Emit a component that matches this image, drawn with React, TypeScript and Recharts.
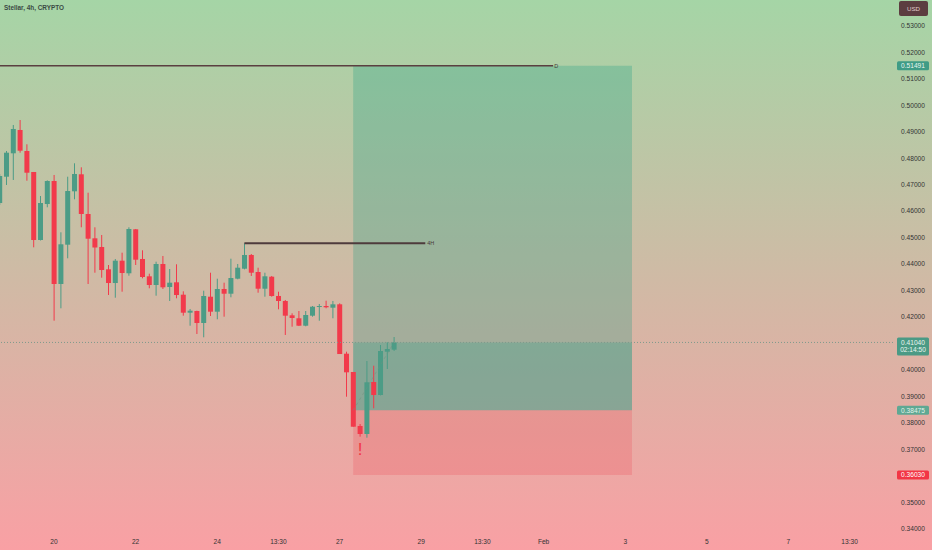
import {
  ComposedChart,
  Bar,
  XAxis,
  YAxis,
  ReferenceArea,
  ReferenceLine,
  ReferenceDot,
} from "recharts";

// 4h candles, Jan 18 16:00 -> Jan 28 08:00
const opens = [
  0.46305, 0.47298, 0.48182, 0.49062, 0.48269, 0.47476, 0.44908, 0.46267, 0.47136, 0.43247,
  0.44731, 0.46747, 0.47389, 0.4589, 0.44972, 0.44644, 0.43802, 0.43284, 0.44127, 0.43651,
  0.45312, 0.44191, 0.43537, 0.43209, 0.44002, 0.43133, 0.43311, 0.42843, 0.42163, 0.42227,
  0.41774, 0.42767, 0.42201, 0.43058, 0.4288, 0.43447, 0.43824, 0.44342, 0.437, 0.43069,
  0.43522, 0.42794, 0.42605, 0.42065, 0.41952, 0.41672, 0.4205, 0.42378, 0.42416, 0.42352,
  0.4248, 0.40615, 0.39924, 0.37885, 0.37583, 0.39546, 0.39055, 0.4069, 0.40766,
];
const highs = [
  0.474, 0.48269, 0.49251, 0.49439, 0.48522, 0.47476, 0.4657, 0.4716, 0.47363, 0.45199,
  0.47298, 0.47804, 0.47653, 0.46694, 0.45388, 0.45097, 0.43964, 0.44191, 0.44429, 0.45388,
  0.45324, 0.44519, 0.43636, 0.44089, 0.44304, 0.43813, 0.43991, 0.42971, 0.42303, 0.42239,
  0.42994, 0.43673, 0.43447, 0.43296, 0.44202, 0.44002, 0.44784, 0.44379, 0.43862, 0.43673,
  0.43549, 0.42956, 0.42643, 0.4214, 0.42227, 0.42227, 0.42416, 0.42492, 0.42616, 0.42605,
  0.42518, 0.4069, 0.39924, 0.3796, 0.40339, 0.40162, 0.40943, 0.41045, 0.41245,
];
const lows = [
  0.4623, 0.46985, 0.47174, 0.48205, 0.47147, 0.44632, 0.4489, 0.46143, 0.41861, 0.42329,
  0.44217, 0.46445, 0.45388, 0.43247, 0.43673, 0.43485, 0.42831, 0.42729, 0.42956, 0.4356,
  0.43964, 0.43462, 0.43084, 0.42805, 0.43058, 0.42605, 0.42707, 0.4205, 0.41672, 0.41359,
  0.41234, 0.42038, 0.41914, 0.42012, 0.42745, 0.43424, 0.438, 0.43549, 0.42918, 0.42767,
  0.42767, 0.42291, 0.41321, 0.41634, 0.4166, 0.41649, 0.42012, 0.41861, 0.42329, 0.41952,
  0.40603, 0.38991, 0.37858, 0.37481, 0.37443, 0.38553, 0.3904, 0.40037, 0.40717,
];
const closes = [
  0.47325, 0.48205, 0.491, 0.4828, 0.47449, 0.44908, 0.46305, 0.47136, 0.43247, 0.44746,
  0.46758, 0.474, 0.4589, 0.44957, 0.44625, 0.43775, 0.43284, 0.44127, 0.43662, 0.45324,
  0.44164, 0.43511, 0.43209, 0.44002, 0.43122, 0.43296, 0.42831, 0.42163, 0.42239, 0.41774,
  0.42794, 0.42201, 0.43058, 0.4288, 0.43473, 0.43862, 0.44342, 0.43673, 0.43069, 0.43537,
  0.42794, 0.42605, 0.4205, 0.41963, 0.41672, 0.42076, 0.4239, 0.42416, 0.42367, 0.4248,
  0.40603, 0.39912, 0.37858, 0.37583, 0.39535, 0.39055, 0.40717, 0.40792, 0.4104,
];

const timeTicks = [8, 20, 32, 41, 50, 62, 71, 80, 92, 104, 116, 125];
const timeLabels = ["20", "22", "24", "13:30", "27", "29", "13:30", "Feb", "3", "5", "7", "13:30"];
const priceTicks = [
  0.34, 0.35, 0.37, 0.38, 0.39, 0.4, 0.42, 0.43, 0.44, 0.45, 0.46, 0.47, 0.48, 0.49, 0.5, 0.51,
  0.52, 0.53,
];

// drawings
const dailyLevel = 0.51491;
const dailyEnd = 81.4;
const h4Level = 0.44784;
const h4Start = 36;
const h4End = 62.6;
const entryPrice = 0.38475;
const targetPrice = 0.51491;
const stopPrice = 0.3603;
const positionStart = 52;
const positionEnd = 93;
const lastPrice = 0.4104;
const countdown = "02:14:50";
const alertBar = 53;
const alertPrice = 0.3703;

const W = 932;
const H = 550;
const X_DOMAIN = [0.0588, 131.38];
const Y_DOMAIN = [0.33769, 0.539705];
const GREEN = "#4c9c86";
const RED = "#f23a4b";
const FONT = "'Liberation Sans', Arial, sans-serif";

const candles = opens.map((o, i) => ({
  i,
  open: o,
  high: highs[i],
  low: lows[i],
  close: closes[i],
  range: [lows[i], highs[i]],
}));

function Candle(props: any) {
  const { x, y, width, height, payload } = props;
  if (x == null || !payload) return null;
  const top = Math.min(y, y + height);
  const h = Math.abs(height);
  const span = payload.high - payload.low;
  const k = span > 0 ? h / span : 0;
  const yo = top + (payload.high - payload.open) * k;
  const yc = top + (payload.high - payload.close) * k;
  const color = payload.close >= payload.open ? GREEN : RED;
  const cx = x + width / 2;
  return (
    <g>
      <line x1={cx} x2={cx} y1={top} y2={top + h} stroke={color} strokeWidth={1} />
      <rect x={x} y={Math.min(yo, yc)} width={width} height={Math.max(Math.abs(yc - yo), 1)} fill={color} />
    </g>
  );
}

function PriceTick({ y, payload }: any) {
  return (
    <text x={W - 19} y={y} dy={2.4} textAnchor="middle" fontSize={6.6} fill="#333" fontFamily={FONT}>
      {Number(payload.value).toFixed(5)}
    </text>
  );
}

function TimeTick({ x, payload }: any) {
  const idx = timeTicks.indexOf(payload.value);
  return (
    <text x={x} y={544} textAnchor="middle" fontSize={6.6} fill="#333" fontFamily={FONT}>
      {timeLabels[idx]}
    </text>
  );
}

function tag(text: string, fill: string, color: string, sub?: string) {
  return (props: any) => {
    const { cx, cy } = props;
    const h = sub ? 18 : 9;
    return (
      <g>
        <rect x={cx + 4} y={cy - (sub ? 5 : 4.5)} width={32} height={h} rx={1.5} fill={fill} />
        <text x={cx + 20} y={cy + 2.3} textAnchor="middle" fontSize={6.6} fill={color} fontFamily={FONT}>
          {text}
        </text>
        {sub && (
          <text x={cx + 20} y={cy + 10} textAnchor="middle" fontSize={6.6} fill={color} fontFamily={FONT}>
            {sub}
          </text>
        )}
      </g>
    );
  };
}

function smallText(text: string, dx: number) {
  return (props: any) => (
    <text x={props.cx + dx} y={props.cy + 2} fontSize={5.5} fill="#4a3a3a" fontFamily={FONT}>
      {text}
    </text>
  );
}

export default function App() {
  return (
    <div
      style={{
        position: "relative",
        width: W,
        height: H,
        background: "linear-gradient(to bottom, #a5d5a6 0%, #f9a0a4 100%)",
        overflow: "hidden",
      }}
    >
      <style>{"body{margin:0}"}</style>
      <div
        style={{
          position: "absolute",
          left: 4,
          top: 4,
          fontSize: 6.4,
          fontFamily: FONT,
          color: "#3b4a44",
          fontWeight: 600,
        }}
      >
        Stellar, 4h, CRYPTO
      </div>
      <div
        style={{
          position: "absolute",
          left: 899,
          top: 1,
          width: 29,
          height: 15,
          borderRadius: 2,
          background: "#5c3d40",
          color: "#e0cccc",
          fontSize: 6.2,
          fontFamily: FONT,
          lineHeight: "15px",
          textAlign: "center",
        }}
      >
        USD
      </div>
      <ComposedChart
        width={W}
        height={H}
        data={candles}
        margin={{ top: 0, right: 0, bottom: 0, left: 0 }}
      >
        <XAxis
          dataKey="i"
          type="number"
          domain={X_DOMAIN}
          allowDataOverflow
          ticks={timeTicks}
          tick={<TimeTick />}
          axisLine={false}
          tickLine={false}
          height={15}
        />
        <YAxis
          orientation="right"
          type="number"
          domain={Y_DOMAIN}
          allowDataOverflow
          ticks={priceTicks}
          tick={<PriceTick />}
          axisLine={false}
          tickLine={false}
          width={39}
        />
        <ReferenceArea
          x1={positionStart}
          x2={positionEnd}
          y1={entryPrice}
          y2={targetPrice}
          fill="#089981"
          fillOpacity={0.25}
          stroke="none"
        />
        <ReferenceArea
          x1={positionStart}
          x2={positionEnd}
          y1={entryPrice}
          y2={lastPrice}
          fill="#089981"
          fillOpacity={0.22}
          stroke="none"
        />
        <ReferenceArea
          x1={positionStart}
          x2={positionEnd}
          y1={stopPrice}
          y2={entryPrice}
          fill="#f23645"
          fillOpacity={0.2}
          stroke="none"
        />
        <ReferenceLine y={lastPrice} stroke="#7f9a8c" strokeDasharray="1 2" strokeWidth={1} />
        <ReferenceLine
          segment={[
            { x: X_DOMAIN[0], y: dailyLevel },
            { x: dailyEnd, y: dailyLevel },
          ]}
          stroke="#5a3f40"
          strokeWidth={1.5}
        />
        <ReferenceLine
          segment={[
            { x: h4Start, y: h4Level },
            { x: h4End, y: h4Level },
          ]}
          stroke="#4e3b3c"
          strokeWidth={2}
        />
        <ReferenceLine
          segment={[
            { x: positionStart, y: entryPrice },
            { x: opens.length - 1, y: lastPrice },
          ]}
          stroke="#6f8f80"
          strokeOpacity={0.5}
          strokeDasharray="3 3"
        />
        <Bar dataKey="range" barSize={5} shape={<Candle />} isAnimationActive={false} />
        <ReferenceDot x={dailyEnd} y={dailyLevel} r={0} ifOverflow="visible" shape={smallText("D", 1)} />
        <ReferenceDot x={h4End} y={h4Level} r={0} ifOverflow="visible" shape={smallText("4H", 2)} />
        <ReferenceDot
          x={alertBar}
          y={alertPrice}
          r={0}
          ifOverflow="visible"
          shape={(p: any) => (
            <text x={p.cx} y={p.cy + 6} textAnchor="middle" fontSize={17} fill="#f23645" fontFamily={FONT}>
              !
            </text>
          )}
        />
        <ReferenceDot x={X_DOMAIN[1]} y={targetPrice} r={0} ifOverflow="visible" shape={tag("0.51491", "#3f9c86", "#eaf6f0")} />
        <ReferenceDot x={X_DOMAIN[1]} y={lastPrice} r={0} ifOverflow="visible" shape={tag("0.41040", "#4a9a85", "#eaf6f0", countdown)} />
        <ReferenceDot x={X_DOMAIN[1]} y={entryPrice} r={0} ifOverflow="visible" shape={tag("0.38475", "#5fa893", "#e4f2ea")} />
        <ReferenceDot x={X_DOMAIN[1]} y={stopPrice} r={0} ifOverflow="visible" shape={tag("0.36030", "#f23645", "#ffffff")} />
      </ComposedChart>
    </div>
  );
}
